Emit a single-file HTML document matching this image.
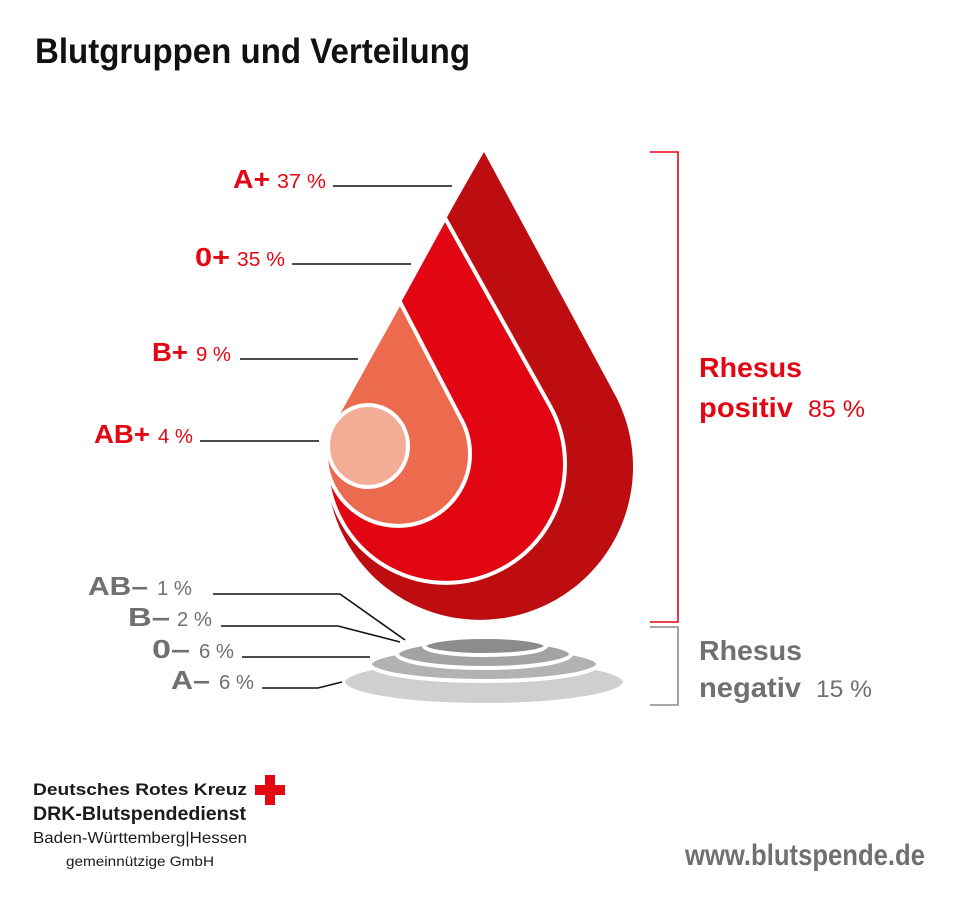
<!DOCTYPE html>
<html><head><meta charset="utf-8"><style>html,body{margin:0;padding:0;background:#fff}svg{display:block}</style></head>
<body>
<svg width="960" height="899" viewBox="0 0 960 899" xmlns="http://www.w3.org/2000/svg" font-family="'Liberation Sans', sans-serif">
<text x="35" y="63" font-size="35" font-weight="bold" fill="#111" textLength="435" lengthAdjust="spacingAndGlyphs">Blutgruppen und Verteilung</text>

<!-- gray ellipses -->
<g stroke="#fff" stroke-width="4">
<ellipse cx="484" cy="682" rx="141" ry="23" fill="#cfcfcf"/>
<ellipse cx="484" cy="664" rx="114" ry="17" fill="#b2b2b2"/>
<ellipse cx="484" cy="654" rx="87" ry="14" fill="#a3a3a3"/>
<ellipse cx="485" cy="646" rx="61" ry="9" fill="#8c8c8c"/>
</g>

<!-- drop -->
<g stroke="#fff" stroke-width="4" stroke-linejoin="round">
<path d="M484,152 L614,393 A153,153 0 1 1 346,393 Z" fill="#bd0d10" stroke="none"/>
<path d="M445,218 L550,406 A119,119 0 1 1 342,406 Z" fill="#e20613"/>
<path d="M400,302 L461,419 A72,72 0 1 1 335,419 Z" fill="#ec6a4e"/>
</g>
<path d="M484,150 L331,428 L300,428 L300,150 Z" fill="#fff"/>
<ellipse cx="368" cy="446" rx="40" ry="41" fill="#f3ac95" stroke="#fff" stroke-width="4"/>

<!-- leader lines -->
<g stroke="#111" stroke-width="1.6" fill="none">
<path d="M333,186 H452"/>
<path d="M292,264 H411"/>
<path d="M240,359 H358"/>
<path d="M200,441 H319"/>
<path d="M213,594 H340 L405,640"/>
<path d="M221,626 H338 L400,642"/>
<path d="M242,657 H370"/>
<path d="M262,688 H318 L342,682"/>
</g>

<!-- brackets -->
<path d="M650,152 H678 V622 H650" stroke="#e30613" stroke-width="1.6" fill="none"/>
<path d="M650,627 H678 V705 H650" stroke="#8a8a8a" stroke-width="1.6" fill="none"/>

<!-- red labels -->
<g fill="#e30613">
<text x="233" y="188" font-size="26" font-weight="bold" textLength="37" lengthAdjust="spacingAndGlyphs">A+</text>
<text x="277" y="188" font-size="20" textLength="49" lengthAdjust="spacingAndGlyphs">37 %</text>
<text x="195" y="266" font-size="26" font-weight="bold" textLength="35" lengthAdjust="spacingAndGlyphs">0+</text>
<text x="237" y="266" font-size="20" textLength="48" lengthAdjust="spacingAndGlyphs">35 %</text>
<text x="152" y="361" font-size="26" font-weight="bold" textLength="36" lengthAdjust="spacingAndGlyphs">B+</text>
<text x="196" y="361" font-size="20" textLength="35" lengthAdjust="spacingAndGlyphs">9 %</text>
<text x="94" y="443" font-size="26" font-weight="bold" textLength="56" lengthAdjust="spacingAndGlyphs">AB+</text>
<text x="158" y="443" font-size="20" textLength="35" lengthAdjust="spacingAndGlyphs">4 %</text>
<text x="699" y="377" font-size="28" font-weight="bold" textLength="103" lengthAdjust="spacingAndGlyphs">Rhesus</text>
<text x="699" y="417" font-size="28" font-weight="bold" textLength="94" lengthAdjust="spacingAndGlyphs">positiv</text>
<text x="808" y="417" font-size="24" textLength="57" lengthAdjust="spacingAndGlyphs">85 %</text>
</g>

<!-- gray labels -->
<g fill="#707070">
<text x="88" y="595" font-size="26" font-weight="bold" textLength="60" lengthAdjust="spacingAndGlyphs">AB–</text>
<text x="157" y="595" font-size="20" textLength="35" lengthAdjust="spacingAndGlyphs">1 %</text>
<text x="128" y="626" font-size="26" font-weight="bold" textLength="42" lengthAdjust="spacingAndGlyphs">B–</text>
<text x="177" y="626" font-size="20" textLength="35" lengthAdjust="spacingAndGlyphs">2 %</text>
<text x="152" y="658" font-size="26" font-weight="bold" textLength="38" lengthAdjust="spacingAndGlyphs">0–</text>
<text x="199" y="658" font-size="20" textLength="35" lengthAdjust="spacingAndGlyphs">6 %</text>
<text x="171" y="689" font-size="26" font-weight="bold" textLength="39" lengthAdjust="spacingAndGlyphs">A–</text>
<text x="219" y="689" font-size="20" textLength="35" lengthAdjust="spacingAndGlyphs">6 %</text>
<text x="699" y="660" font-size="28" font-weight="bold" textLength="103" lengthAdjust="spacingAndGlyphs">Rhesus</text>
<text x="699" y="697" font-size="28" font-weight="bold" textLength="102" lengthAdjust="spacingAndGlyphs">negativ</text>
<text x="816" y="697" font-size="24" textLength="56" lengthAdjust="spacingAndGlyphs">15 %</text>
<text x="685" y="865" font-size="30" font-weight="bold" textLength="240" lengthAdjust="spacingAndGlyphs">www.blutspende.de</text>
</g>

<!-- logo -->
<g fill="#1a1a1a">
<text x="33" y="795" font-size="17" font-weight="bold" textLength="214" lengthAdjust="spacingAndGlyphs">Deutsches Rotes Kreuz</text>
<text x="33" y="820" font-size="19" font-weight="bold" textLength="213" lengthAdjust="spacingAndGlyphs">DRK-Blutspendedienst</text>
<text x="33" y="843" font-size="16" textLength="214" lengthAdjust="spacingAndGlyphs">Baden-Württemberg|Hessen</text>
<text x="66" y="866" font-size="14" textLength="148" lengthAdjust="spacingAndGlyphs">gemeinnützige GmbH</text>
</g>
<path d="M265,775 H275 V785 H285 V795 H275 V805 H265 V795 H255 V785 H265 Z" fill="#e30613"/>
</svg>
</body></html>
